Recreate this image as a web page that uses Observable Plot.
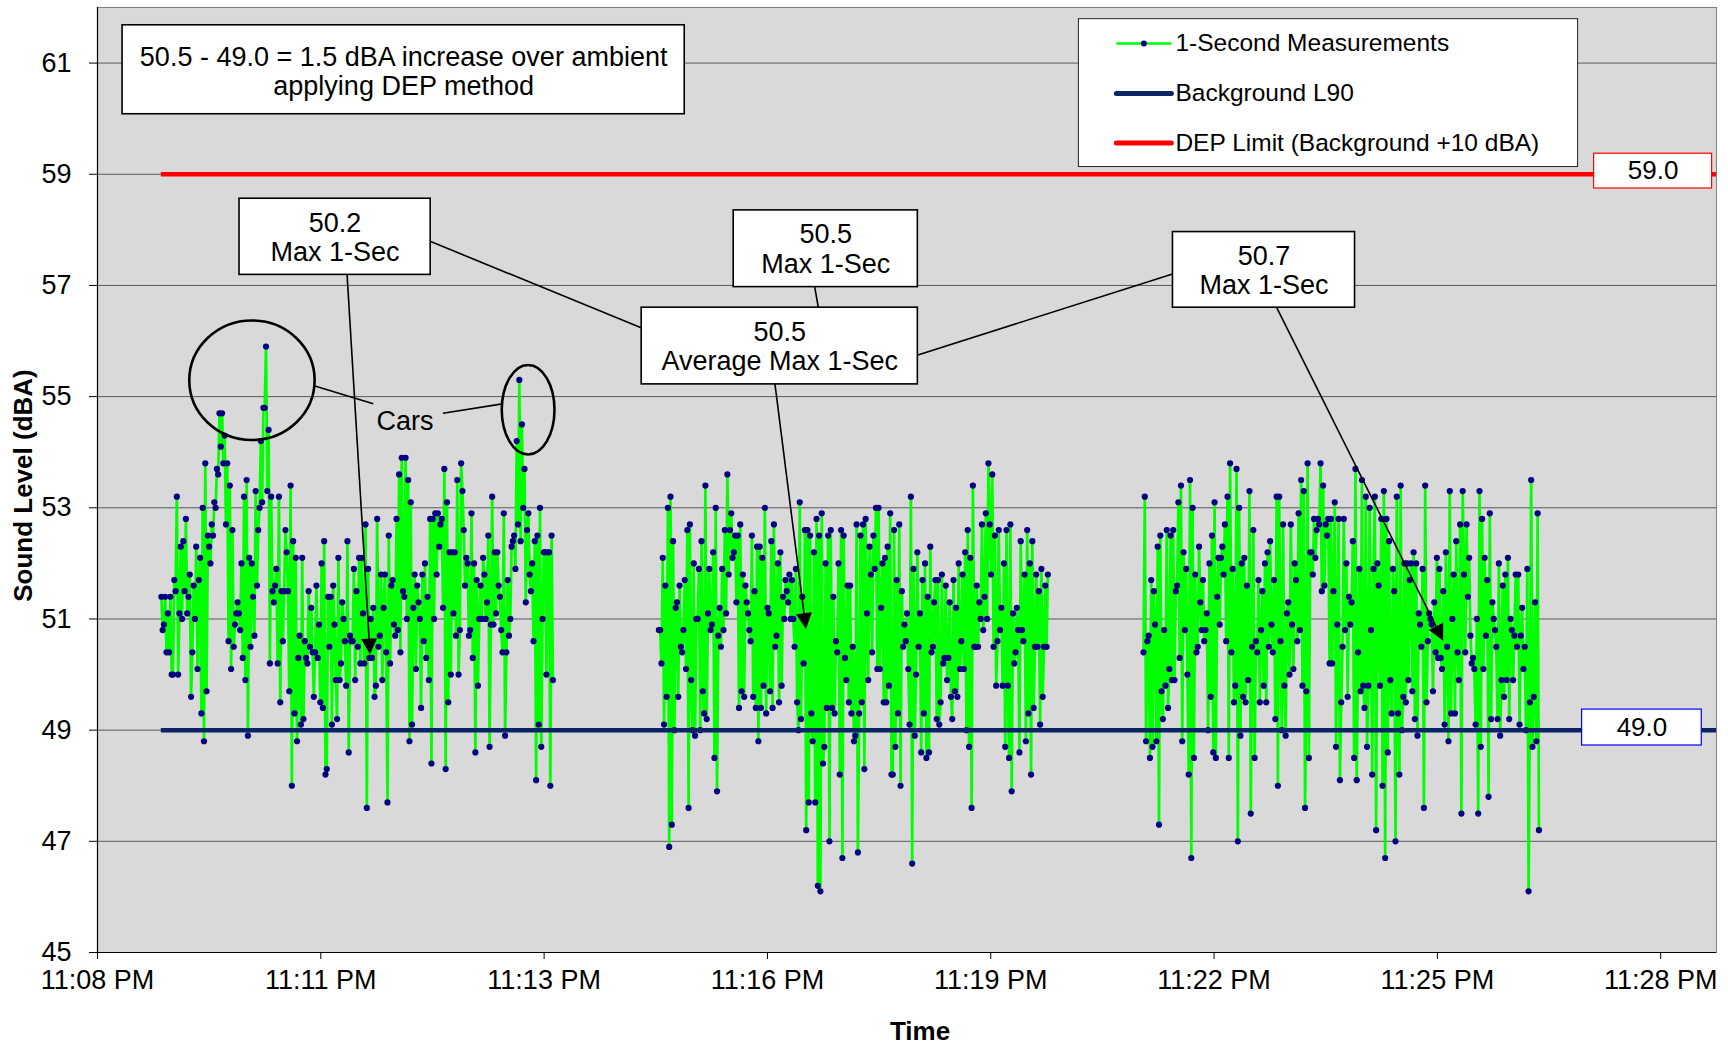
<!DOCTYPE html>
<html>
<head>
<meta charset="utf-8">
<script src="https://cdn.jsdelivr.net/npm/d3@7"></script>
<script src="https://cdn.jsdelivr.net/npm/@observablehq/plot@0.6"></script>
<style>
  html, body { margin: 0; padding: 0; background: #fff; }
  #chart svg { display: block; }
</style>
</head>
<body>
<div id="chart"></div>
<script>
// ---------------- DATA ----------------
const segmentStarts = ["23:08:59", "23:15:24", "23:21:39"];

const segment1 = [
51.4,50.8,50.9,51.4,50.4,51.1,50.4,51.4,50.0,50.0,
51.7,51.5,53.2,50.0,51.1,52.3,51.0,52.4,51.5,52.8,
51.1,51.4,51.8,49.6,50.4,51.6,51.0,52.3,50.1,51.7,
52.1,49.3,53.0,48.8,53.8,49.7,52.5,52.3,52.0,52.7,
52.5,53.1,53.0,53.7,53.6,54.7,54.1,54.7,53.8,54.3,
52.7,53.8,50.6,53.4,50.1,52.6,50.5,50.9,51.1,51.3,
51.1,50.8,52.0,50.3,53.2,49.9,53.5,48.9,52.1,50.5,
52.0,51.4,50.7,53.3,51.6,52.6,53.0,54.2,53.1,54.8,
54.8,55.9,53.3,54.4,50.2,53.2,51.5,51.3,51.6,51.9,
50.2,53.2,49.5,51.5,50.6,51.5,52.6,52.2,51.5,49.7,
53.4,48.0,52.4,49.3,52.1,48.8,50.3,50.7,49.1,52.1,
49.2,50.6,50.3,50.2,51.5,50.5,51.2,50.4,49.6,50.4,
51.6,50.3,50.9,49.5,52.0,49.4,52.4,48.2,48.3,51.4,
50.5,51.4,49.1,51.6,50.9,49.9,49.2,52.1,49.9,50.2,
51.3,51.0,50.6,49.8,52.4,48.6,50.7,50.6,50.6,51.9,
49.9,51.5,50.5,52.1,
50.2,52.1,51.1,50.2,52.7,47.6,51.9,50.3,51.0,50.3,
51.2,49.6,49.8,52.8,50.5,50.7,51.8,49.9,51.2,51.8,
50.4,47.7,52.5,50.2,51.6,51.7,50.9,50.7,52.8,50.8,
53.6,50.4,53.9,51.5,51.4,53.9,51.0,53.5,48.8,53.1,
49.1,51.2,51.8,50.1,51.6,51.3,51.0,49.4,51.8,50.6,
52.0,50.3,51.4,49.9,52.8,48.4,52.8,51.0,52.9,51.8,
52.9,52.3,52.7,52.8,51.2,53.7,48.3,53.1,49.5,52.2,
50.0,52.2,51.1,52.2,50.7,53.5,50.0,50.8,53.8,53.3,
52.6,51.6,52.1,52.0,50.7,50.8,52.9,50.3,52.0,48.6,
51.7,49.8,51.0,51.6,51.0,52.1,51.8,51.0,51.3,52.5,
48.7,50.9,53.2,50.9,52.2,51.1,52.2,51.6,51.4,50.8,
50.4,52.9,48.9,50.4,51.7,50.7,51.0,52.3,52.4,52.5,
51.9,54.2,52.7,55.3,52.4,54.5,53.0,53.7,51.3,52.6,
52.9,51.8,51.5,52.0,50.6,52.4,48.1,52.5,49.1,53.0,
48.7,51.0,52.2,52.2,50.0,52.2,52.2,48.0,52.5,49.9
];

const segment2 = [
50.8,50.8,50.2,52.1,49.1,51.6,49.6,53.0,46.9,53.2,
47.3,52.4,49.0,51.2,51.3,49.6,51.6,50.5,50.4,50.8,
51.7,50.1,52.6,47.6,52.7,49.9,49.0,52.0,48.9,51.0,
51.0,51.9,49.0,52.4,49.7,49.3,53.4,49.2,51.1,51.9,
50.8,50.9,52.2,48.5,53.0,47.9,50.7,51.2,50.5,51.9,
50.8,52.6,51.1,53.6,51.8,52.6,52.9,52.1,52.2,52.5,
51.3,52.5,49.4,52.7,49.7,51.8,49.6,51.6,51.3,51.1,
50.8,50.6,52.5,49.6,51.5,49.4,52.3,48.8,52.3,49.4,
52.1,49.8,53.0,49.3,51.2,51.1,49.7,52.4,49.4,52.7,
50.5,50.7,52.0,49.5,52.2,49.8,51.4,51.0,51.7,51.5,
51.3,51.8,51.0,51.7,51.0,50.5,51.9,49.5,49.0,53.1,
49.2,51.4,50.2,52.6,47.2,52.6,47.7,52.5,49.3,48.8,
52.2,47.7,52.8,46.2,52.5,46.1,52.9,48.4,48.7,52.0,
49.4,52.5,47.0,52.6,49.4,51.4,49.3,50.6,50.4,52.0,
48.2,52.6,46.7,52.5,50.3,49.9,51.6,49.5,51.6,49.3,
50.5,48.8,48.9,52.7,46.8,49.3,
52.5,49.5,52.7,48.3,52.8,51.1,49.9,52.3,51.8,50.4,
52.5,51.9,53.0,50.1,53.0,50.1,51.2,52.0,49.5,52.1,
49.5,52.3,49.8,52.9,48.2,48.2,52.6,48.7,51.7,49.3,
52.7,48.0,51.5,50.5,50.9,50.6,51.1,50.1,49.1,53.2,
46.6,51.9,48.9,50.0,52.2,50.5,51.1,48.6,51.7,49.3,
52.0,48.5,51.4,48.6,52.3,50.4,50.5,51.3,51.7,49.2,
51.7,49.1,49.5,51.8,50.2,50.3,51.6,49.9,50.3,51.3,
49.6,49.2,51.7,49.7,51.2,49.6,52.0,50.1,50.6,51.8,
50.1,52.2,49.0,52.6,48.7,52.1,47.6,53.4,50.5,50.5,
51.6,50.5,51.3,51.0,52.7,50.8,51.4,52.9,51.0,53.8,
52.7,51.8,53.6,50.5,52.5,49.8,50.6,52.6,50.8,51.2,
49.8,52.0,48.7,52.6,49.8,48.5,52.7,47.9,51.1,50.2,
50.4,51.2,50.8,48.6,52.4,50.8,50.6,51.8,48.8,52.6,
49.3,52.0,48.2,52.4,49.4,50.5,51.8,50.5,51.5,49.1,
51.9,49.6,50.5,51.6,50.5,51.8
];

const segment3 = [
50.4,53.2,48.8,50.6,50.7,48.5,51.7,48.7,51.5,50.9,
48.8,52.3,47.3,52.5,49.7,49.2,50.8,49.8,52.6,49.4,
50.1,52.5,49.9,52.6,49.9,51.5,51.6,53.1,50.3,53.4,
48.8,52.2,50.8,51.9,50.0,48.2,53.5,46.7,53.0,48.5,
51.8,50.4,50.5,52.3,51.3,50.8,51.7,50.6,50.8,51.1,
49.0,52.0,49.6,52.5,48.6,53.1,48.5,51.4,52.1,50.9,
52.1,52.3,51.8,52.7,50.6,53.2,48.5,53.8,50.4,51.9,
49.5,49.8,53.7,47.0,53.0,48.9,52.0,49.6,52.1,49.5,
51.6,49.9,53.3,47.5,50.5,52.6,48.5,50.6,50.4,51.7,
49.5,50.8,51.5,49.8,52.0,49.5,52.2,50.5,52.4,50.9,
50.4,51.7,49.2,53.2,48.0,53.2,50.6,49.0,52.7,49.8,
48.9,51.1,51.3,50.0,52.7,50.9,50.1,52.0,51.7,50.6,
52.9,50.8,53.5,49.8,53.3,47.6,49.7,53.8,48.5,52.2,
52.2,51.8,52.8,52.1,52.6,52.8,52.7,53.8,51.5,53.4,
51.6,52.7,52.5,52.8,50.2,52.8,50.2,51.5,53.1,48.7,
50.9,52.8,48.1,
49.5,50.5,52.8,50.8,52.0,49.6,51.4,50.9,51.3,52.4,
48.5,53.7,48.1,50.4,51.9,49.7,53.5,49.8,49.4,53.2,
48.7,49.8,53.0,50.8,48.2,51.9,53.2,47.2,52.0,51.6,
49.8,52.8,48.0,53.3,46.7,52.8,48.6,52.4,49.9,49.3,
51.9,51.5,47.0,53.2,49.3,48.2,53.4,49.0,49.6,52.0,
49.5,52.0,49.9,51.7,52.0,49.7,52.2,49.2,52.0,48.9,
51.1,50.9,50.5,51.9,47.6,53.4,49.5,50.6,51.1,51.0,
50.9,49.7,51.3,50.4,52.1,50.3,51.9,50.3,50.1,51.5,
49.1,52.2,50.5,48.8,53.3,49.3,51.0,51.8,49.3,52.4,
50.4,49.9,52.7,47.5,53.3,51.8,50.4,52.7,51.4,52.1,
50.7,50.2,50.3,50.1,49.1,51.0,47.5,53.3,48.7,52.8,
50.1,52.1,50.7,51.7,47.8,52.9,49.2,51.3,51.0,50.8,
50.5,49.2,52.0,48.9,49.9,51.6,49.6,51.8,49.9,52.1,
49.2,51.0,50.8,49.9,50.7,51.8,50.5,51.8,49.1,50.7,
51.2,50.1,50.5,49.0,51.9,46.1,49.5,53.5,48.7,49.6,
51.3,48.8,52.9,47.2
];

const backgroundL90 = 49.0;
const depLimit = 59.0;

const yTicks = [45, 47, 49, 51, 53, 55, 57, 59, 61];
const xTickLabels = ["11:08 PM", "11:11 PM", "11:13 PM", "11:16 PM", "11:19 PM", "11:22 PM", "11:25 PM", "11:28 PM"];
const axisStartDays = 0.964, axisEndDays = 0.9785, majorUnitDays = 0.002;

const seriesNames = ["1-Second Measurements", "Background L90", "DEP Limit (Background +10 dBA)"];

// ---------------- ANNOTATIONS (data coordinates) ----------------
const textBoxes = [
  {x1: "23:08:29", x2: "23:15:44", y1: 60.08, y2: 61.68, ty: 60.86,
   text: "50.5 - 49.0 = 1.5 dBA increase over ambient\napplying DEP method"},
  {x1: "23:09:59.5", x2: "23:12:27.4", y1: 57.19, y2: 58.56, text: "50.2\nMax 1-Sec"},
  {x1: "23:16:21.9", x2: "23:18:44.4", y1: 56.97, y2: 58.35, text: "50.5\nMax 1-Sec"},
  {x1: "23:15:10.7", x2: "23:18:44.4", y1: 55.22, y2: 56.60, text: "50.5\nAverage Max 1-Sec"},
  {x1: "23:22:01.8", x2: "23:24:22.7", y1: 56.60, y2: 57.96, text: "50.7\nMax 1-Sec"}
];
const connectors = [
  {x1: "23:12:27.4", y1: 57.79, x2: "23:15:11.2", y2: 56.23},
  {x1: "23:17:24.6", y1: 56.97, x2: "23:17:27.4", y2: 56.60},
  {x1: "23:18:44.4", y1: 55.75, x2: "23:22:02.1", y2: 57.21},
  {x1: "23:10:57.8", y1: 55.19, x2: "23:11:43.0", y2: 54.87},
  {x1: "23:12:36.9", y1: 54.70, x2: "23:13:22.9", y2: 54.87}
];
const arrows = [
  {x1: "23:11:23.1", y1: 57.19, x2: "23:11:40.9", y2: 50.35},
  {x1: "23:16:54.2", y1: 55.22, x2: "23:17:18.2", y2: 50.81},
  {x1: "23:23:22.3", y1: 56.60, x2: "23:25:31.3", y2: 50.60}
];
const ellipses = [
  {x1: "23:09:21", x2: "23:10:58", y1: 54.21, y2: 56.36},
  {x1: "23:13:22.8", x2: "23:14:03.6", y1: 53.95, y2: 55.56}
];
const carsLabel = {x: "23:12:07.6", y: 54.55, text: "Cars"};
const valueLabels = [
  {value: depLimit, x1: "23:27:27.7", x2: "23:28:59.0", y1: 58.744, y2: 59.37, stroke: "#FF0000"},
  {value: backgroundL90, x1: "23:27:18.4", x2: "23:28:51.0", y1: 48.724, y2: 49.37, stroke: "#0000FF"}
];
const legendBox = {x1: "23:20:49.0", x2: "23:27:15.3", y1: 59.13, y2: 61.79};
const legendRows = [61.352, 60.453, 59.562];
const legendSample = {x1: "23:21:18.0", x2: "23:22:00.6", text: "23:22:03.7"};

// ---------------- HELPERS ----------------
const DAY = 86400000;
const BASE = Date.UTC(2000, 0, 1);
const fromDays = d => new Date(BASE + Math.round(d * DAY));
const at = s => {
  const [h, m, sec] = s.split(":").map(parseFloat);
  return new Date(BASE + Math.round(((h * 60 + m) * 60 + sec) * 1000));
};
const mid = (a, b) => new Date((at(a).getTime() + at(b).getTime()) / 2);

const rows = [];
[segment1, segment2, segment3].forEach((vals, k) => {
  const t0 = at(segmentStarts[k]).getTime();
  vals.forEach((v, i) => rows.push({time: new Date(t0 + i * 1000), value: v, segment: k}));
});

const xStart = fromDays(axisStartDays);
const xEnd = fromDays(axisEndDays);
const xTicks = xTickLabels.map((_, k) => fromDays(axisStartDays + k * majorUnitDays));
const lineStart = at(segmentStarts[0]);

const COLORS = {green: "#00FF00", dot: "#000080", navy: "#0B2466", red: "#FF0000"};

function shapes(index, scales) {
  const sc = scales && typeof scales.x === "function" ? scales : index;
  const {x, y} = sc;
  const NS = "http://www.w3.org/2000/svg";
  const g = document.createElementNS(NS, "g");
  for (const e of ellipses) {
    const X1 = x(at(e.x1)), X2 = x(at(e.x2)), Y1 = y(e.y1), Y2 = y(e.y2);
    const el = document.createElementNS(NS, "ellipse");
    el.setAttribute("cx", (X1 + X2) / 2);
    el.setAttribute("cy", (Y1 + Y2) / 2);
    el.setAttribute("rx", Math.abs(X2 - X1) / 2);
    el.setAttribute("ry", Math.abs(Y2 - Y1) / 2);
    el.setAttribute("fill", "none");
    el.setAttribute("stroke", "black");
    el.setAttribute("stroke-width", 2.6);
    g.appendChild(el);
  }
  for (const a of arrows) {
    const X1 = x(at(a.x1)), X2 = x(at(a.x2)), Y1 = y(a.y1), Y2 = y(a.y2);
    const L = Math.hypot(X2 - X1, Y2 - Y1), ux = (X2 - X1) / L, uy = (Y2 - Y1) / L;
    const head = 16, half = 8;
    const ln = document.createElementNS(NS, "line");
    ln.setAttribute("x1", X1); ln.setAttribute("y1", Y1);
    ln.setAttribute("x2", X2 - ux * head * 0.7); ln.setAttribute("y2", Y2 - uy * head * 0.7);
    ln.setAttribute("stroke", "black"); ln.setAttribute("stroke-width", 1.6);
    g.appendChild(ln);
    const bx = X2 - ux * head, by = Y2 - uy * head;
    const p = document.createElementNS(NS, "polygon");
    p.setAttribute("points", `${X2},${Y2} ${bx - uy * half},${by + ux * half} ${bx + uy * half},${by - ux * half}`);
    p.setAttribute("fill", "black");
    g.appendChild(p);
  }
  return g;
}

const legendMarks = [
  Plot.rect([legendBox], {x1: d => at(d.x1), x2: d => at(d.x2), y1: "y1", y2: "y2", fill: "white", stroke: "#222", strokeWidth: 1}),
  Plot.link([0], {x1: () => at(legendSample.x1), x2: () => at(legendSample.x2), y1: () => legendRows[0], y2: () => legendRows[0], stroke: COLORS.green, strokeWidth: 2.6}),
  Plot.dot([0], {x: () => mid(legendSample.x1, legendSample.x2), y: () => legendRows[0], r: 3, fill: COLORS.dot}),
  Plot.link([0], {x1: () => at(legendSample.x1), x2: () => at(legendSample.x2), y1: () => legendRows[1], y2: () => legendRows[1], stroke: COLORS.navy, strokeWidth: 5, strokeLinecap: "round"}),
  Plot.link([0], {x1: () => at(legendSample.x1), x2: () => at(legendSample.x2), y1: () => legendRows[2], y2: () => legendRows[2], stroke: COLORS.red, strokeWidth: 5, strokeLinecap: "round"}),
  Plot.text(seriesNames, {x: () => at(legendSample.text), y: (d, i) => legendRows[i], text: d => d, textAnchor: "start", lineAnchor: "middle", fontSize: 24.5, fill: "black"})
];

const chart = Plot.plot({
  width: 1728,
  height: 1049,
  marginLeft: 97,
  marginRight: 12,
  marginTop: 7,
  marginBottom: 97,
  style: {fontFamily: "'Liberation Sans', Arial, sans-serif", fontSize: "27px", background: "white", color: "black", overflow: "visible"},
  x: {type: "utc", domain: [xStart, xEnd], ticks: xTicks,
      tickFormat: d => xTickLabels[Math.round((d - xStart) / (majorUnitDays * DAY))],
      tickSize: 7, tickPadding: 10, label: null},
  y: {domain: [45, 62], ticks: yTicks, tickSize: 8, tickPadding: 18, label: null},
  marks: [
    Plot.frame({fill: "#D9D9D9", stroke: "#808080"}),
    Plot.ruleY(yTicks.filter(v => v > 45), {stroke: "#5a5a5a", strokeWidth: 1}),
    Plot.line(rows, {x: "time", y: "value", z: "segment", stroke: COLORS.green, strokeWidth: 2.7}),
    Plot.dot(rows, {x: "time", y: "value", r: 3.1, fill: COLORS.dot, stroke: "none"}),
    Plot.ruleY([backgroundL90], {x1: () => lineStart, x2: () => xEnd, stroke: COLORS.navy, strokeWidth: 4.5}),
    Plot.ruleY([depLimit], {x1: () => lineStart, x2: () => xEnd, stroke: COLORS.red, strokeWidth: 4.5}),
    Plot.ruleX([xStart], {stroke: "black", strokeWidth: 1.2}),
    Plot.ruleY([45], {stroke: "black", strokeWidth: 1.2}),
    // value labels on reference lines
    Plot.rect(valueLabels, {x1: d => at(d.x1), x2: d => at(d.x2), y1: "y1", y2: "y2", fill: "white", stroke: d => d.stroke, strokeWidth: 1.2}),
    Plot.text(valueLabels, {x: d => mid(d.x1, d.x2), y: d => (d.y1 + d.y2) / 2, text: d => d.value.toFixed(1), fontSize: 26, fill: "black"}),
    // legend
    ...legendMarks,
    // annotation boxes
    Plot.link(connectors, {x1: d => at(d.x1), x2: d => at(d.x2), y1: "y1", y2: "y2", stroke: "black", strokeWidth: 1.6}),
    Plot.rect(textBoxes, {x1: d => at(d.x1), x2: d => at(d.x2), y1: "y1", y2: "y2", fill: "white", stroke: "black", strokeWidth: 1.6}),
    Plot.text(textBoxes, {x: d => mid(d.x1, d.x2), y: d => d.ty ?? (d.y1 + d.y2) / 2, text: "text",
      fontSize: 27, lineHeight: 1.09, lineAnchor: "middle", textAnchor: "middle", fill: "black"}),
    Plot.text([carsLabel], {x: d => at(d.x), y: "y", text: "text", fontSize: 27, fill: "black"}),
    shapes,
    // axis titles
    Plot.text(["Time"], {frameAnchor: "bottom", text: d => d, dx: 13, dy: 79, textAnchor: "middle", lineAnchor: "middle", fontWeight: "bold", fontSize: 26, fill: "black"}),
    Plot.text(["Sound Level (dBA)"], {frameAnchor: "left", text: d => d, rotate: -90, dx: -74, dy: 5.5, textAnchor: "middle", lineAnchor: "middle", fontWeight: "bold", fontSize: 26, fill: "black"})
  ]
});

document.getElementById("chart").appendChild(chart);
</script>
</body>
</html>
